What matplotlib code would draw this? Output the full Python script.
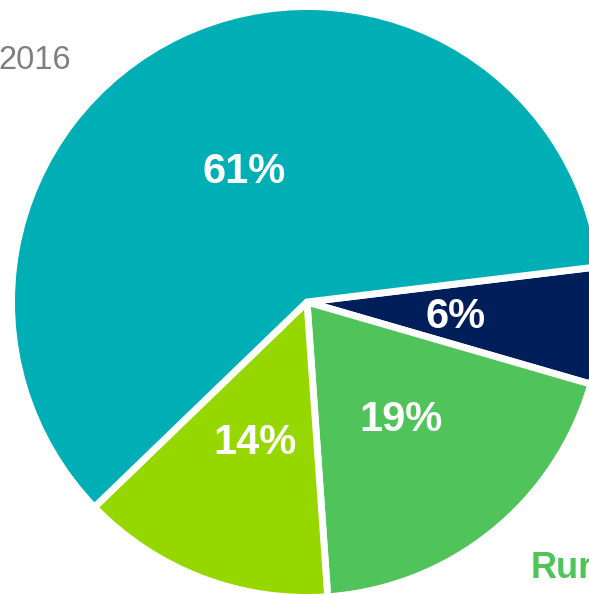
import matplotlib
matplotlib.use('Agg')
import matplotlib.pyplot as plt

plt.rcParams['font.family'] = ['Liberation Sans', 'DejaVu Sans']

# shares, clockwise from the right
segments = ['Navy', 'Green', 'Lime', 'Teal']
shares = [6.4, 19.4, 13.9, 60.3]
pct_labels = ['6%', '19%', '14%', '61%']
colors = ['#001E5A', '#50C35B', '#97D700', '#00AEB6']

W, H = 589, 594
fig = plt.figure(figsize=(W / 100, H / 100), dpi=100)
ax = fig.add_axes([0, 0, 1, 1])

# axes in pixel units, pie centre at (307, 302) from the top-left
cx, cy = 307, 302
labels_iter = iter(pct_labels)
wedges, texts, autotexts = ax.pie(
    shares, colors=colors, startangle=6.9, counterclock=False,
    radius=295.5, center=(0, 0), pctdistance=0.5,
    autopct=lambda p: next(labels_iter),
    wedgeprops=dict(edgecolor='white', linewidth=5),
    textprops=dict(color='white', fontsize=30, fontweight='bold'))

for t in autotexts:
    x, y = t.get_position()
    t.set_position((x + 1, y - 3))

ax.set_xlim(-cx, W - cx)
ax.set_ylim(-(H - cy), cy)
ax.set_aspect('auto')
ax.axis('off')

fig.text(-0.002, 1 - 69 / H, '2016', color='#7F7F7F', fontsize=23.5,
         ha='left', va='baseline')
# category title runs off the right edge, as in the source slide
fig.text(531 / W, 1 - 578 / H, 'Rural', color='#50C35B', fontsize=26,
         fontweight='bold', ha='left', va='baseline')

fig.savefig('out.png', dpi=100)
